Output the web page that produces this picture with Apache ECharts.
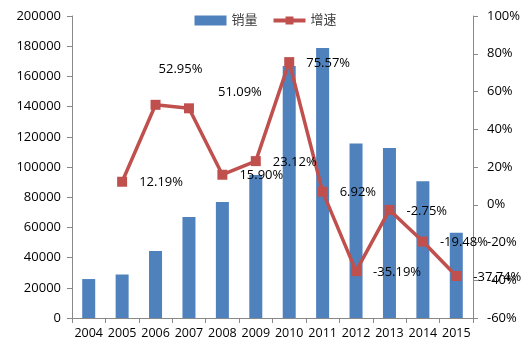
<!DOCTYPE html>
<html><head><meta charset="utf-8">
<script src="https://cdn.jsdelivr.net/npm/echarts@6/dist/echarts.min.js"></script>
<style>html,body{margin:0;padding:0;background:#fff}#c{width:531px;height:346px}</style>
</head><body><div id="c"></div>
<script>
const years = ['2004','2005','2006','2007','2008','2009','2010','2011','2012','2013','2014','2015'];
const sales = [25800, 28800, 44400, 66900, 76800, 94700, 166900, 178800, 115600, 112600, 90500, 56500];
const growth = [null, 12.19, 52.95, 51.09, 15.90, 23.12, 75.57, 6.92, -35.19, -2.75, -19.48, -37.74];
const seriesNames = ['销量', '增速'];

const font = 'Open Sans, Liberation Sans, Noto Sans CJK SC, sans-serif';
const labelPos = {2: [-14, -36], 3: [12, -16]};
const chart = echarts.init(document.getElementById('c'), null, {renderer: 'canvas'});
chart.setOption({
  animation: false,
  textStyle: {fontFamily: font},
  legend: {
    top: 9, left: 'center', itemGap: 14, itemWidth: 32, itemHeight: 10,
    textStyle: {fontSize: 13, color: '#404040', fontFamily: font},
    data: [
      {name: seriesNames[0], icon: 'rect'},
      {name: seriesNames[1], lineStyle: {width: 4, color: '#C0504D'}, itemStyle: {color: '#C0504D'}}
    ]
  },
  grid: {left: 72, right: 58, top: 16, bottom: 28},
  xAxis: {
    type: 'category', data: years,
    axisLine: {lineStyle: {color: '#898989'}},
    axisTick: {show: true, alignWithLabel: false, length: 5, lineStyle: {color: '#898989'}},
    axisLabel: {interval: 0, color: '#000', fontSize: 12.5, margin: 9, fontFamily: font}
  },
  yAxis: [{
    type: 'value', min: 0, max: 200000, interval: 20000,
    axisLine: {show: true, lineStyle: {color: '#898989'}},
    axisTick: {show: true, length: 5, lineStyle: {color: '#898989'}},
    splitLine: {show: false},
    axisLabel: {color: '#000', fontSize: 13, margin: 11, fontFamily: font, formatter: v => String(v)}
  }, {
    type: 'value', min: -60, max: 100, interval: 20,
    axisLine: {show: true, lineStyle: {color: '#898989'}},
    axisTick: {show: true, length: 5, lineStyle: {color: '#898989'}},
    splitLine: {show: false},
    axisLabel: {color: '#000', fontSize: 13, margin: 14, formatter: '{value}%', fontFamily: font}
  }],
  series: [{
    name: seriesNames[0], type: 'bar', data: sales, barWidth: 13,
    itemStyle: {color: '#4F81BD'}
  }, {
    name: seriesNames[1], type: 'line', yAxisIndex: 1,
    data: growth.map((v, i) => ({
      value: v,
      label: {show: v !== null, position: 'right', distance: 12,
        offset: labelPos[i] || [0, 1],
        formatter: p => p.value.toFixed(2) + '%', color: '#000', fontSize: 13, fontFamily: font}
    })),
    symbol: 'rect', symbolSize: 10,
    lineStyle: {color: '#C0504D', width: 3.5},
    itemStyle: {color: '#C0504D'}
  }]
});
</script></body></html>
